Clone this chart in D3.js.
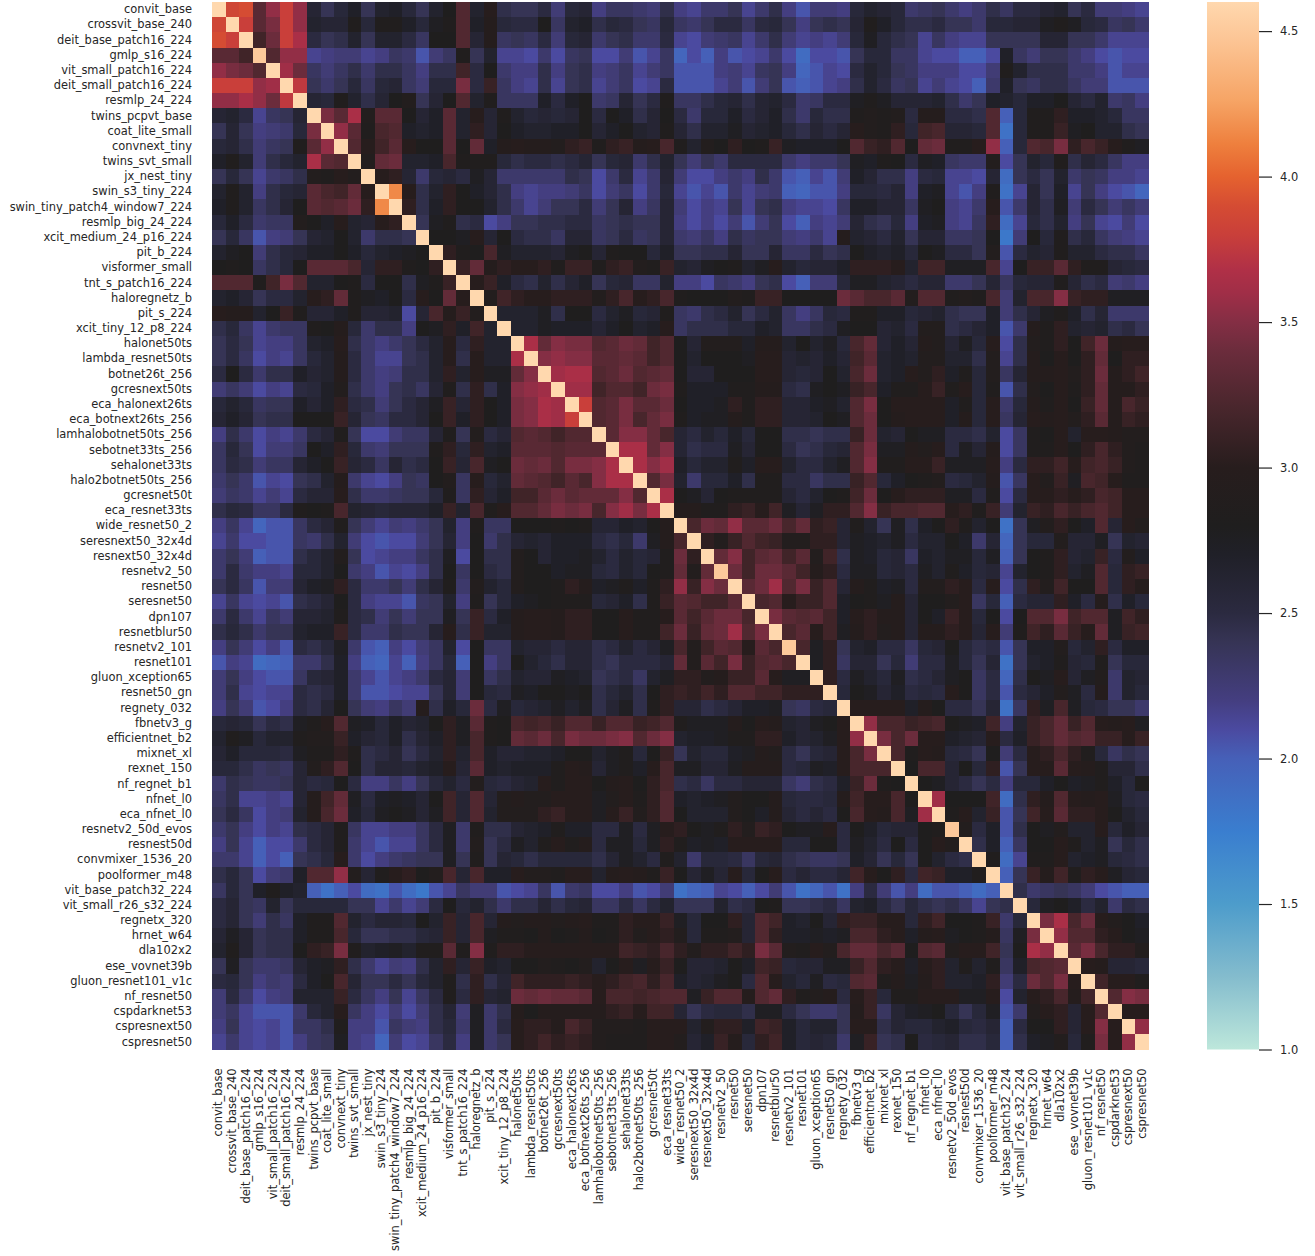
<!DOCTYPE html>
<html>
<head>
<meta charset="utf-8">
<script src="https://cdnjs.cloudflare.com/ajax/libs/d3/7.8.5/d3.min.js"></script>
<style>
  html, body { margin: 0; padding: 0; background: #fff; }
  svg { display: block; }
  text { font-family: "DejaVu Sans", sans-serif; fill: #262626; }
</style>
</head>
<body>
<div id="wrapper"></div>
<script>
const models = ["convit_base","crossvit_base_240","deit_base_patch16_224","gmlp_s16_224","vit_small_patch16_224","deit_small_patch16_224","resmlp_24_224","twins_pcpvt_base","coat_lite_small","convnext_tiny","twins_svt_small","jx_nest_tiny","swin_s3_tiny_224","swin_tiny_patch4_window7_224","resmlp_big_24_224","xcit_medium_24_p16_224","pit_b_224","visformer_small","tnt_s_patch16_224","haloregnetz_b","pit_s_224","xcit_tiny_12_p8_224","halonet50ts","lambda_resnet50ts","botnet26t_256","gcresnext50ts","eca_halonext26ts","eca_botnext26ts_256","lamhalobotnet50ts_256","sebotnet33ts_256","sehalonet33ts","halo2botnet50ts_256","gcresnet50t","eca_resnet33ts","wide_resnet50_2","seresnext50_32x4d","resnext50_32x4d","resnetv2_50","resnet50","seresnet50","dpn107","resnetblur50","resnetv2_101","resnet101","gluon_xception65","resnet50_gn","regnety_032","fbnetv3_g","efficientnet_b2","mixnet_xl","rexnet_150","nf_regnet_b1","nfnet_l0","eca_nfnet_l0","resnetv2_50d_evos","resnest50d","convmixer_1536_20","poolformer_m48","vit_base_patch32_224","vit_small_r26_s32_224","regnetx_320","hrnet_w64","dla102x2","ese_vovnet39b","gluon_resnet101_v1c","nf_resnet50","cspdarknet53","cspresnext50","cspresnet50"];

// diagonal is 4.6 except a few slightly lower ones
const diagonalLow = { gmlp_s16_224: 4.5, resnetv2_50: 4.5, resnetv2_101: 4.5, resnetv2_50d_evos: 4.5 };

const barTicks = [1.0, 1.5, 2.0, 2.5, 3.0, 3.5, 4.0, 4.5];

// colour stops
const colorValues = [1.0, 1.25, 1.5, 1.75, 2.0, 2.1, 2.2, 2.4, 2.5, 2.7, 2.8, 3.0, 3.2, 3.4, 3.5, 3.6, 3.68, 3.8, 3.9, 4.0, 4.11, 4.26, 4.47, 4.6];
const colorStops = ["#bde7db","#84bccd","#4d9ccb","#3a7ecf","#4660b8","#4b4aa0","#443e80","#363455","#2b2a40","#202028","#1f1e1e","#271d1d","#48262c","#6b2c3c","#842e44","#a02e47","#b03047","#c93f3a","#d54c33","#e5622f","#ee7f3d","#f6a465","#fcc595","#ffd8ae"];

// upper triangle, row i holds the columns i+1 .. 68
const upperRows = [
[3.85,3.9,3.3,3.55,3.8,3.55,2.6,2.4,2.55,2.7,2.4,2.65,2.7,2.55,2.4,2.65, 2.8,3.25,2.65,3.0,2.45,2.4,2.4,2.5,2.25,2.55,2.6,2.2,2.35,2.35,2.3,2.25,2.45, 2.2,2.15,2.3,2.3,2.4,2.15,2.3,2.45,2.2,2.05,2.25,2.25,2.2,2.55,2.65,2.6,2.55, 2.3,2.35,2.4,2.3,2.2,2.3,2.45,2.35,2.5,2.5,2.6,2.65,2.4,2.5,2.25,2.25,2.2,2.15],
[3.8,3.3,3.45,3.8,3.55,2.65,2.6,2.6,2.85,2.55,2.85,2.85,2.7,2.55,2.75, 2.85,3.25,2.7,2.95,2.55,2.5,2.5,2.8,2.35,2.65,2.7,2.45,2.55,2.5,2.4,2.35,2.55, 2.35,2.3,2.4,2.5,2.5,2.35,2.5,2.55,2.4,2.2,2.4,2.45,2.4,2.6,2.85,2.7,2.55, 2.45,2.45,2.5,2.4,2.4,2.3,2.55,2.55,2.6,2.6,2.75,2.85,2.75,2.55,2.5,2.35,2.4,2.3],
[3.15,3.4,3.8,3.65,2.5,2.4,2.45,2.65,2.4,2.65,2.65,2.5,2.35,2.8, 2.8,3.25,2.6,2.95,2.35,2.4,2.35,2.5,2.25,2.55,2.6,2.3,2.4,2.45,2.3,2.3,2.5, 2.15,2.1,2.25,2.3,2.35,2.15,2.3,2.45,2.25,2.15,2.2,2.15,2.25,2.55,2.75,2.55,2.45, 2.4,2.15,2.35,2.2,2.15,2.15,2.4,2.4,2.4,2.4,2.6,2.6,2.4,2.4,2.3,2.15,2.15,2.15],
[3.25,3.55,3.55,2.15,2.2,2.25,2.25,2.15,2.2,2.35,2.3,2.05,2.25, 2.35,2.85,2.4,2.65,2.15,2.15,2.1,2.3,2.1,2.35,2.4,2.1,2.1,2.25,2.05,2.15,2.35, 1.95,2.1,2.0,2.2,2.05,2.1,2.15,2.3,2.1,1.9,2.1,2.1,2.05,2.4,2.55,2.55,2.35, 2.35,2.15,2.1,2.1,2.0,2.0,2.1,2.7,2.35,2.25,2.4,2.4,2.3,2.2,2.1,2.05,2.1,2.1],
[3.6,3.4,2.35,2.25,2.35,2.45,2.3,2.45,2.45,2.35,2.2,2.45, 2.45,3.15,2.5,2.8,2.3,2.2,2.2,2.45,2.2,2.4,2.45,2.2,2.25,2.35,2.15,2.25,2.35, 2.05,2.05,2.05,2.2,2.25,2.15,2.35,2.4,2.2,1.95,2.05,2.15,2.1,2.5,2.65,2.55,2.4, 2.35,2.2,2.2,2.2,2.1,2.1,2.25,2.85,2.65,2.45,2.45,2.45,2.3,2.3,2.2,2.05,2.15,2.15],
[3.75,2.4,2.3,2.4,2.55,2.35,2.55,2.6,2.35,2.25,2.55, 2.55,3.45,2.5,3.1,2.35,2.2,2.15,2.45,2.15,2.4,2.45,2.15,2.25,2.35,2.1,2.15,2.5, 2.05,2.05,2.05,2.15,2.25,2.05,2.25,2.4,2.05,2.0,2.05,2.15,2.2,2.45,2.65,2.5,2.35, 2.4,2.15,2.25,2.15,2.1,2.0,2.3,2.7,2.4,2.35,2.45,2.45,2.35,2.25,2.25,2.05,2.05,2.05],
[2.6,2.55,2.85,2.65,2.45,2.6,2.8,2.9,2.4,2.6, 2.8,3.25,2.65,2.85,2.35,2.35,2.35,2.7,2.5,2.7,2.8,2.3,2.35,2.6,2.4,2.5,2.85, 2.35,2.35,2.45,2.55,2.6,2.45,2.6,2.65,2.5,2.3,2.35,2.5,2.5,2.75,2.85,2.75,2.6, 2.6,2.6,2.65,2.45,2.3,2.4,2.7,2.65,2.55,2.7,2.7,2.8,2.6,2.5,2.65,2.3,2.35,2.2],
[3.45,3.3,3.65,2.9,3.3,3.3,2.8,2.6,2.7, 3.3,2.65,3.0,2.6,2.85,2.65,2.55,2.6,2.55,2.6,2.8,2.5,2.8,2.7,2.45,2.6,2.8, 2.5,2.3,2.55,2.55,2.7,2.5,2.6,2.7,2.45,2.3,2.55,2.45,2.45,2.85,2.9,2.85,2.9, 2.5,2.95,2.95,2.5,2.5,2.45,3.25,2.0,2.55,2.85,2.85,3.05,2.7,2.7,2.65,2.55,2.35,2.35],
[3.55,3.3,2.85,3.2,3.25,2.7,2.65,2.7, 3.3,2.65,3.05,2.6,2.8,2.7,2.65,2.65,2.7,2.7,2.8,2.6,2.7,2.8,2.65,2.6,2.85, 2.6,2.45,2.65,2.65,2.75,2.6,2.65,2.7,2.55,2.45,2.6,2.5,2.6,3.0,2.9,2.85,3.05, 2.55,3.15,3.2,2.6,2.6,2.55,3.25,1.85,2.55,2.85,2.85,3.1,2.75,2.8,2.65,2.65,2.45,2.4],
[3.25,3.0,3.15,3.3,3.0,2.8,2.8, 3.3,2.8,3.35,2.7,2.95,3.0,2.95,2.95,2.9,3.05,3.1,2.85,3.05,3.1,2.95,3.0,3.2, 2.85,2.65,2.9,2.8,3.05,2.8,2.85,3.1,2.75,2.7,2.7,2.7,2.8,3.25,3.1,3.05,3.25, 2.8,3.35,3.4,2.85,2.85,3.0,3.55,2.0,2.55,3.25,3.2,3.45,3.05,3.2,3.1,3.0,2.85,2.75],
[2.9,3.35,3.4,2.65,2.65,2.7, 3.2,2.85,2.85,2.85,2.55,2.45,2.5,2.5,2.45,2.5,2.6,2.4,2.55,2.6,2.3,2.45,2.65, 2.4,2.25,2.4,2.3,2.5,2.5,2.5,2.5,2.3,2.2,2.3,2.3,2.4,2.75,2.7,2.85,2.8, 2.5,2.75,2.7,2.35,2.3,2.3,2.9,2.1,2.4,2.65,2.55,2.85,2.45,2.6,2.5,2.35,2.2,2.2],
[3.0,3.05,2.6,2.3,2.55, 2.6,2.5,2.75,2.6,2.3,2.3,2.3,2.3,2.3,2.45,2.4,2.1,2.3,2.5,2.15,2.3,2.6, 2.25,2.1,2.1,2.2,2.3,2.2,2.45,2.3,2.05,2.0,2.15,2.05,2.25,2.7,2.6,2.45,2.45, 2.2,2.5,2.55,2.15,2.15,2.1,2.6,1.9,2.4,2.5,2.4,2.65,2.3,2.4,2.35,2.2,2.2,2.15],
[4.15,3.0,2.45,2.65, 3.05,2.8,2.7,2.6,2.45,2.2,2.15,2.2,2.2,2.25,2.35,2.1,2.25,2.35,2.1,2.3,2.55, 2.15,2.05,2.15,2.05,2.3,2.15,2.25,2.3,2.0,1.95,2.05,2.05,2.2,2.55,2.55,2.5,2.6, 2.2,2.7,2.75,2.15,2.05,2.2,2.85,1.85,2.15,2.6,2.4,2.7,2.15,2.4,2.2,2.1,2.05,1.95],
[3.05,2.45,2.7, 3.05,2.8,2.8,2.65,2.45,2.3,2.15,2.25,2.4,2.4,2.5,2.25,2.4,2.6,2.2,2.35,2.6, 2.25,2.1,2.2,2.15,2.4,2.15,2.4,2.45,2.2,2.15,2.15,2.1,2.35,2.7,2.7,2.6,2.6, 2.35,2.75,2.8,2.2,2.15,2.3,3.0,2.05,2.3,2.6,2.45,2.75,2.25,2.5,2.4,2.25,2.35,2.25],
[2.4,2.75, 2.85,2.45,2.5,2.1,2.2,2.4,2.4,2.45,2.45,2.5,2.5,2.35,2.4,2.45,2.4,2.4,2.6, 2.2,2.1,2.2,2.1,2.25,2.05,2.25,2.4,2.1,2.0,2.2,2.15,2.25,2.6,2.45,2.4,2.55, 2.2,2.7,2.75,2.2,2.15,2.35,3.05,1.9,2.15,2.55,2.45,2.65,2.2,2.4,2.15,2.1,2.25,2.1],
[2.8, 2.8,2.75,3.0,2.6,2.8,2.5,2.45,2.45,2.35,2.6,2.6,2.35,2.4,2.5,2.35,2.4,2.6, 2.3,2.25,2.35,2.2,2.45,2.35,2.4,2.4,2.25,2.2,2.3,2.15,2.95,2.65,2.6,2.5,2.65, 2.4,2.6,2.6,2.35,2.35,2.4,2.8,1.8,2.25,2.8,2.55,2.85,2.45,2.55,2.35,2.25,2.2,2.15],
[3.05,2.85,2.8,3.2,2.75,2.65,2.65,2.65,2.6,2.75,2.8,2.6,2.85,2.8,2.8,2.55,2.7, 2.4,2.4,2.45,2.45,2.6,2.4,2.4,2.6,2.35,2.35,2.5,2.4,2.45,2.8,2.7,2.65,2.7, 2.55,2.8,2.75,2.5,2.5,2.4,2.9,2.05,2.5,2.65,2.6,2.85,2.65,2.65,2.5,2.45,2.45,2.35],
[3.1,3.35,2.95,3.05,3.0,3.0,3.05,2.85,3.1,3.1,2.85,3.05,3.1,2.9,2.85,3.1, 2.65,2.6,2.75,2.8,2.85,2.65,2.75,3.0,2.65,2.55,2.6,2.6,2.7,3.05,3.05,3.05,3.0, 2.65,3.15,3.15,2.75,2.75,2.75,3.2,2.15,2.8,3.1,3.1,3.3,3.05,2.85,2.85,2.6,2.55,2.5],
[3.0,3.1,2.7,2.5,2.45,2.65,2.45,2.6,2.7,2.4,2.55,2.6,2.35,2.35,2.65, 2.2,2.2,2.1,2.35,2.3,2.2,2.4,2.45,2.1,2.0,2.25,2.25,2.55,2.75,2.75,2.65,2.6, 2.5,2.6,2.6,2.3,2.3,2.4,2.6,2.35,2.55,2.6,2.6,2.85,2.6,2.45,2.5,2.25,2.3,2.2],
[2.9,3.15,3.05,3.0,3.0,3.05,3.05,3.05,2.9,3.05,3.2,3.0,3.05,3.2, 2.85,2.8,2.8,2.8,2.9,2.85,3.1,3.1,2.8,2.8,2.8,2.8,3.4,3.3,3.2,3.2,3.3, 2.9,3.25,3.25,2.85,2.9,2.85,3.2,2.25,2.65,3.2,3.2,3.5,3.1,3.05,3.05,2.75,2.75,2.75],
[2.65,2.65,2.65,2.75,2.45,2.8,2.8,2.5,2.65,2.75,2.55,2.6,2.85, 2.35,2.3,2.45,2.5,2.65,2.4,2.5,2.65,2.35,2.2,2.35,2.55,2.5,2.85,2.85,2.7,2.7, 2.55,2.6,2.65,2.45,2.4,2.4,2.7,2.25,2.45,2.6,2.75,2.85,2.7,2.45,2.6,2.3,2.3,2.3],
[2.65,2.65,2.75,2.7,2.7,2.7,2.6,2.7,2.8,2.65,2.7,3.0, 2.35,2.45,2.45,2.45,2.55,2.55,2.7,2.65,2.35,2.35,2.45,2.5,2.75,2.8,2.8,2.6,2.65, 2.5,2.9,2.9,2.45,2.5,2.6,2.7,2.05,2.3,2.95,2.85,3.05,2.65,2.6,2.65,2.45,2.5,2.4],
[3.65,3.35,3.5,3.45,3.45,3.25,3.3,3.4,3.35,3.15,3.25, 2.8,2.6,2.9,2.9,2.9,2.7,2.95,2.95,2.65,2.8,2.65,2.75,2.55,3.2,3.35,2.6,2.7, 2.6,2.95,2.9,2.6,2.75,2.55,3.0,2.1,2.45,2.9,2.85,3.05,2.8,3.15,3.4,2.95,3.0,3.0],
[3.5,3.55,3.5,3.5,3.3,3.3,3.35,3.3,3.15,3.25, 2.8,2.65,2.8,2.8,2.8,2.75,3.0,3.0,2.6,2.65,2.6,2.7,2.6,3.15,3.3,2.65,2.7, 2.65,2.9,2.9,2.65,2.65,2.45,2.9,2.15,2.45,2.95,2.8,3.0,2.8,3.05,3.35,2.8,3.05,3.05],
[3.6,3.65,3.65,3.25,3.3,3.4,3.25,3.3,3.35, 2.8,2.6,2.6,2.8,2.8,2.8,3.0,3.0,2.6,2.55,2.6,2.8,2.65,3.2,3.4,2.65,2.7, 3.0,2.9,3.05,2.7,2.85,2.55,2.9,2.35,2.6,2.95,2.95,3.0,2.9,3.05,3.4,2.95,3.05,3.15],
[3.6,3.6,3.15,3.25,3.25,3.15,3.4,3.45, 2.85,2.7,2.7,2.7,2.85,2.85,2.95,2.95,2.5,2.45,2.75,2.8,2.75,3.1,3.2,2.7,2.85, 2.85,3.0,3.1,2.85,3.0,2.55,2.85,2.05,2.45,2.9,2.8,3.0,2.85,3.05,3.35,2.95,2.95,3.05],
[3.8,3.25,3.3,3.45,3.3,3.3,3.4, 2.8,2.7,2.7,2.75,3.05,2.85,3.05,3.05,2.6,2.6,2.7,2.75,2.65,3.25,3.45,2.8,3.0, 3.0,3.0,3.0,2.7,2.85,2.55,3.0,2.3,2.55,2.95,2.85,3.0,2.8,3.1,3.35,2.95,3.2,3.1],
[3.25,3.3,3.45,3.2,3.35,3.45, 2.85,2.7,2.75,2.75,2.95,2.85,3.05,3.05,2.6,2.6,2.65,2.8,2.75,3.25,3.4,2.8,2.95, 3.0,3.0,3.0,2.7,2.95,2.55,3.0,2.35,2.6,3.0,2.95,3.0,2.9,3.05,3.3,2.95,3.1,3.05],
[3.3,3.5,3.5,3.35,3.2, 2.6,2.5,2.65,2.55,2.7,2.55,2.8,2.8,2.45,2.45,2.4,2.45,2.45,3.1,3.4,2.65,2.6, 2.8,2.75,2.75,2.5,2.5,2.45,2.65,2.1,2.35,2.85,2.8,3.0,2.65,3.0,3.0,2.95,2.9,2.9],
[3.65,3.65,3.35,3.5, 2.6,2.45,2.5,2.5,2.75,2.6,2.8,2.8,2.5,2.4,2.45,2.55,2.6,3.25,3.45,2.75,2.75, 2.95,2.9,3.0,2.5,2.75,2.6,2.95,2.1,2.35,2.85,2.85,3.0,2.8,3.05,3.2,3.05,2.9,2.85],
[3.65,3.5,3.6, 2.7,2.55,2.65,2.65,2.85,2.7,3.0,3.0,2.65,2.5,2.5,2.65,2.75,3.25,3.5,2.85,2.85, 3.0,3.0,3.1,2.75,2.75,2.75,3.0,2.2,2.5,3.05,3.05,3.15,3.0,3.15,3.2,3.1,2.9,2.85],
[3.25,3.45, 2.65,2.3,2.55,2.55,2.7,2.45,2.85,2.85,2.5,2.5,2.35,2.45,2.45,3.1,3.25,2.55,2.7, 2.8,2.85,2.9,2.5,2.55,2.65,2.95,2.05,2.35,3.0,2.9,3.1,2.75,3.2,3.15,3.0,2.85,2.85],
[3.65, 2.8,2.75,2.6,2.8,2.85,2.85,2.85,2.85,2.6,2.5,2.65,2.8,2.85,3.15,3.4,2.8,3.0, 3.05,3.05,3.05,2.75,2.75,2.5,2.85,2.1,2.5,3.0,3.0,3.05,3.0,3.05,3.2,3.15,3.0,3.0],
[2.95,2.95,2.85,2.85,3.05,3.1,3.0,3.15,2.75,2.6,2.75,3.05,3.05,3.25,3.5,3.1,3.2, 3.2,3.25,3.25,3.0,3.05,2.85,3.1,2.25,2.65,3.1,3.05,3.2,3.1,3.2,3.25,3.15,3.0,3.0],
[3.2,3.4,3.35,3.55,3.3,3.3,3.4,3.2,3.35,3.05,3.1,2.6,2.85,2.65,2.4,2.75, 2.45,2.7,2.8,3.05,2.85,2.65,2.8,1.85,2.4,2.75,2.9,3.05,2.8,2.7,3.25,2.6,3.0,2.9],
[3.05,2.9,3.1,3.25,3.15,3.1,2.9,2.9,3.05,3.05,2.6,2.75,2.7,2.65,2.75, 2.5,2.65,2.65,2.8,2.7,2.3,2.6,1.95,2.4,2.55,2.55,2.9,2.6,2.6,2.75,2.4,2.65,2.6],
[3.35,3.5,3.15,3.3,3.35,3.15,3.3,2.9,3.15,2.45,2.75,2.7,2.55,2.6, 2.35,2.7,2.65,2.75,2.75,2.55,2.75,2.0,2.4,2.8,2.85,3.05,2.6,2.65,3.1,2.5,2.9,2.7],
[3.4,3.15,3.4,3.4,3.3,3.15,2.95,3.05,2.5,2.75,2.75,2.55,2.6, 2.5,2.75,2.65,2.85,2.7,2.55,2.6,2.15,2.65,2.8,2.85,3.05,2.65,2.75,3.25,2.55,3.05,3.1],
[3.3,3.4,3.6,3.25,3.45,3.1,3.25,2.6,2.95,2.85,2.7,2.75, 2.5,2.9,2.9,3.05,3.0,2.5,3.0,2.1,2.45,3.05,2.9,3.15,2.8,2.8,3.25,2.55,3.05,2.95],
[3.2,3.25,3.0,3.1,3.1,3.25,2.7,2.8,2.85,2.75,2.95, 2.6,2.8,2.8,2.9,3.0,2.35,2.55,2.0,2.5,2.6,2.6,3.05,2.7,2.5,2.95,2.45,2.7,2.55],
[3.45,3.3,3.25,3.3,3.15,2.7,3.0,3.05,2.95,2.95, 2.6,2.8,2.7,3.1,3.0,2.55,2.8,2.1,2.8,3.25,3.25,3.45,3.15,3.25,3.25,2.75,3.15,3.05],
[3.2,3.3,3.0,3.15,2.75,2.95,3.05,2.9,2.95, 2.6,2.95,2.95,3.05,3.0,2.6,3.0,2.25,2.85,3.15,3.05,3.3,3.1,3.0,3.35,2.75,3.1,3.15],
[3.2,2.75,3.05,2.4,2.65,2.7,2.5,2.5, 2.35,2.55,2.6,2.8,2.55,2.45,2.5,2.05,2.4,2.7,2.7,2.9,2.55,2.65,3.05,2.5,2.7,2.7],
[2.75,3.05,2.35,2.6,2.6,2.4,2.55, 2.25,2.5,2.5,2.75,2.55,2.4,2.6,1.85,2.4,2.65,2.7,2.85,2.6,2.55,2.85,2.4,2.55,2.55],
[3.05,2.5,2.75,2.65,2.55,2.75, 2.45,2.5,2.6,2.75,2.8,2.35,2.5,1.95,2.45,2.8,2.75,3.0,2.6,2.75,2.9,2.3,2.65,2.6],
[2.55,2.8,2.75,2.6,2.7, 2.5,2.55,2.5,3.0,2.8,2.35,2.5,2.05,2.5,2.6,2.7,2.9,2.75,2.5,2.95,2.3,2.65,2.55],
[3.0,3.0,3.0,3.0, 2.7,2.95,2.8,2.5,2.5,2.4,2.6,1.85,2.35,3.05,2.75,3.2,2.75,2.55,2.5,2.4,2.4,2.3],
[3.55,3.2,3.2, 3.1,3.15,3.2,2.8,2.75,2.7,3.15,2.2,2.65,3.1,3.2,3.35,3.1,3.25,3.0,2.95,3.0,2.75],
[3.45,3.2, 3.4,3.0,3.0,2.7,2.65,2.6,3.0,2.5,2.7,3.1,3.2,3.35,3.25,3.3,3.1,3.1,3.0,3.1],
[3.2, 2.85,3.0,2.95,2.55,2.5,2.4,2.8,2.25,2.5,3.0,3.05,3.2,3.05,2.85,2.55,2.35,2.45,2.4],
[2.8,3.2,3.2,2.6,2.8,2.55,3.05,2.05,2.4,3.0,3.0,3.3,3.0,2.95,2.85,2.6,2.6,2.45],
[2.8,2.75,2.6,2.5,2.4,2.5,2.2,2.55,2.55,2.7,2.8,2.7,2.75,2.85,2.7,2.55,2.8],
[3.6,2.8,2.8,2.8,3.15,1.9,2.45,3.05,2.95,3.25,3.0,2.95,3.0,2.75,2.55,2.5],
[2.85,3.0,2.65,3.1,2.05,2.4,3.15,3.0,3.3,3.05,3.05,3.0,2.8,2.65,2.55],
[2.9,2.5,2.7,2.05,2.45,2.8,2.75,2.9,2.65,2.65,3.0,2.55,2.7,2.6],
[2.45,2.7,2.0,2.35,2.8,2.8,3.0,2.85,2.65,2.75,2.4,2.55,2.45],
[2.85,1.9,2.15,2.85,2.85,3.0,2.65,2.7,2.75,2.55,2.5,2.45],
[2.0,2.4,3.1,2.95,3.15,2.85,3.05,3.0,2.75,2.6,2.55],
[2.45,2.3,2.35,2.4,2.35,2.25,2.1,2.05,2.0,2.0],
[2.55,2.75,2.8,2.7,2.5,2.65,2.3,2.5,2.45],
[3.45,3.65,3.2,3.4,3.0,2.9,2.8,2.7],
[3.55,3.25,3.25,3.05,3.0,2.8,2.75],
[3.3,3.45,3.2,3.05,3.05,2.9],
[3.0,2.95,2.6,2.6,2.55],
[3.15,3.0,3.0,2.85],
[3.25,3.5,3.45],
[3.0,3.0],
[3.55]
];

async function drawChart() {
  // 1. build cells, matrix is symmetric
  const cells = [];
  models.forEach((rowName, i) => {
    cells.push({ row: rowName, col: rowName, value: diagonalLow[rowName] || 4.6 });
    (upperRows[i] || []).forEach((v, k) => {
      const colName = models[i + 1 + k];
      cells.push({ row: rowName, col: colName, value: v });
      cells.push({ row: colName, col: rowName, value: v });
    });
  });

  // 2. dimensions
  const dimensions = {
    width: 1315,
    height: 1256,
    heatLeft: 212,
    heatRight: 1149,
    heatTop: 2,
    heatBottom: 1049.5,
    barLeft: 1207,
    barRight: 1259,
  };

  const wrapper = d3
    .select("#wrapper")
    .append("svg")
    .attr("width", dimensions.width)
    .attr("height", dimensions.height);

  // 3. scales
  const xScale = d3
    .scaleBand()
    .domain(models)
    .range([dimensions.heatLeft, dimensions.heatRight]);

  const yScale = d3
    .scaleBand()
    .domain(models)
    .range([dimensions.heatTop, dimensions.heatBottom]);

  const colorScale = d3
    .scaleLinear()
    .domain(colorValues)
    .range(colorStops)
    .interpolate(d3.interpolateRgb);

  const barScale = d3
    .scaleLinear()
    .domain([1, 4.6])
    .range([dimensions.heatBottom, dimensions.heatTop]);

  // 4. cells
  wrapper
    .append("g")
    .attr("shape-rendering", "crispEdges")
    .selectAll("rect")
    .data(cells)
    .join("rect")
    .attr("x", (d) => xScale(d.col))
    .attr("y", (d) => yScale(d.row))
    .attr("width", xScale.bandwidth())
    .attr("height", yScale.bandwidth())
    .attr("fill", (d) => colorScale(d.value));

  // 5. axes
  const leftAxis = wrapper
    .append("g")
    .attr("transform", `translate(${dimensions.heatLeft - 20},0)`)
    .call(d3.axisLeft(yScale).tickSize(0).tickPadding(0));
  leftAxis.select(".domain").remove();
  leftAxis.selectAll("text").style("font-size", "11.45px");

  const bottomAxis = wrapper
    .append("g")
    .attr("transform", `translate(0,${dimensions.heatBottom + 19})`)
    .call(d3.axisBottom(xScale).tickSize(0).tickPadding(0));
  bottomAxis.select(".domain").remove();
  bottomAxis
    .selectAll("text")
    .style("font-size", "11.45px")
    .attr("text-anchor", "end")
    .attr("dy", "0.32em")
    .attr("transform", "rotate(-90)");

  // 6. colour bar
  const gradient = wrapper
    .append("defs")
    .append("linearGradient")
    .attr("id", "bar-gradient")
    .attr("x1", 0)
    .attr("x2", 0)
    .attr("y1", 1)
    .attr("y2", 0);
  colorValues.forEach((v, i) => {
    gradient
      .append("stop")
      .attr("offset", (v - 1) / 3.6)
      .attr("stop-color", colorStops[i]);
  });

  wrapper
    .append("rect")
    .attr("x", dimensions.barLeft)
    .attr("y", dimensions.heatTop)
    .attr("width", dimensions.barRight - dimensions.barLeft)
    .attr("height", dimensions.heatBottom - dimensions.heatTop)
    .attr("fill", "url(#bar-gradient)");

  const barAxis = wrapper
    .append("g")
    .attr("transform", `translate(${dimensions.barRight},0)`)
    .call(
      d3
        .axisRight(barScale)
        .tickValues(barTicks)
        .tickFormat(d3.format(".1f"))
        .tickSize(13)
        .tickPadding(8)
    );
  barAxis.select(".domain").remove();
  barAxis.selectAll("line").attr("stroke", "#262626").attr("stroke-width", 1.2);
  barAxis.selectAll("text").style("font-size", "11.45px");
}
drawChart();
</script>
</body>
</html>
